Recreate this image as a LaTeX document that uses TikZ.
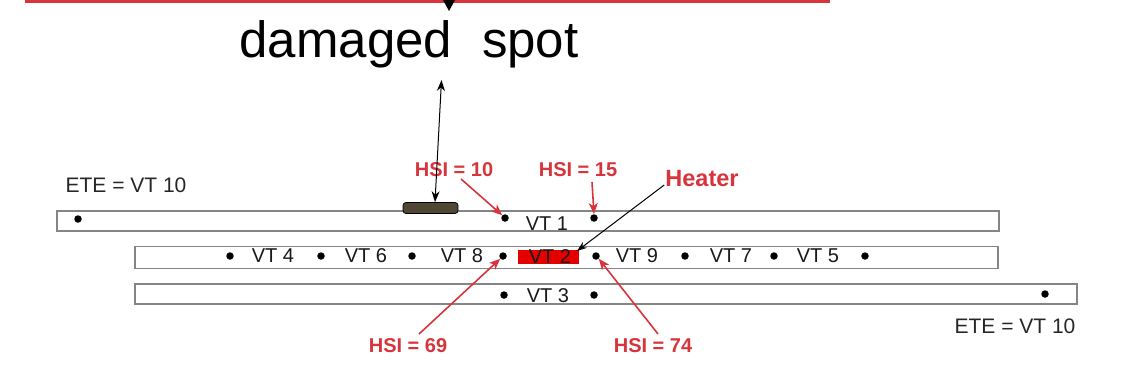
\documentclass[tikz,border=0pt]{standalone}
\usepackage{fontspec}
\setmainfont{Liberation Sans}
\usetikzlibrary{arrows.meta}
\definecolor{hsired}{HTML}{D8343C}
\definecolor{tubegray}{HTML}{858585}
\definecolor{spotbrown}{HTML}{4F4733}
\tikzset{
  tube/.style={draw=tubegray, line width=1.8pt, fill=white, anchor=north west, inner sep=0pt},
  vdot/.style={circle, fill=black, inner sep=0pt, minimum size=7.5pt},
  vtlabel/.style={font=\fontsize{20}{20}\selectfont, text=black!90, inner sep=0pt},
  redlabel/.style={font=\bfseries\fontsize{20}{20}\selectfont, text=hsired, inner sep=0pt},
  etelabel/.style={font=\fontsize{21}{21}\selectfont, text=black!85, inner sep=0pt},
  redarrow/.style={draw=hsired, line width=1.6pt, -{Stealth[length=11pt,width=9pt,inset=3pt]}},
}
\begin{document}
\begin{tikzpicture}[x=1pt,y=-1pt]
\useasboundingbox (0,0) rectangle (1128,381);
% top strip fragment
\draw[hsired, line width=3pt] (25,1.5) -- (830,1.5);
\fill[black] (443,0) -- (455,0) -- (449,11) -- cycle;
% title
\node[font=\fontsize{51}{51}\selectfont, inner sep=0pt] (title) at (409,44) {damaged\hspace{30pt}spot};
% tubes
\node[tube, minimum width=942pt, minimum height=20pt] (t1) at (56,210) {};
\node[tube, minimum width=863pt, minimum height=22pt] (t2) at (134,245.5) {};
\node[tube, minimum width=942pt, minimum height=20pt] (t3) at (134,283) {};
% damaged spot bar
\node[draw=black, line width=0.8pt, fill=spotbrown, rounded corners=3pt, minimum width=55pt, minimum height=11pt, inner sep=0pt] (spot) at (430.5,208) {};
% heater
\node[fill=red!90!black, minimum width=61pt, minimum height=14pt, inner sep=0pt] (heater) at (548.5,256.5) {};
% dots tube 1
\node[vdot] (e1) at (78,219) {};
\node[vdot] (d10) at (505,218) {};
\node[vdot] (d15) at (594,218) {};
% dots tube 2
\node[vdot] (a1) at (230,256) {};
\node[vdot] (a2) at (321,256) {};
\node[vdot] (a3) at (412,256) {};
\node[vdot] (d69) at (503,256) {};
\node[vdot] (d74) at (596,256) {};
\node[vdot] (a6) at (685,256) {};
\node[vdot] (a7) at (774,256) {};
\node[vdot] (a8) at (865,256) {};
% dots tube 3
\node[vdot] (b1) at (504,295) {};
\node[vdot] (b2) at (594,295) {};
\node[vdot] (e2) at (1045,294) {};
% VT labels
\node[vtlabel] (vt1) at (547,224) {VT 1};
\node[vtlabel] (vt4) at (273,256) {VT 4};
\node[vtlabel] (vt6) at (366,256) {VT 6};
\node[vtlabel] (vt8) at (462,256) {VT 8};
\node[vtlabel] (vt2) at (550,257) {VT 2};
\node[vtlabel] (vt9) at (637,256) {VT 9};
\node[vtlabel] (vt7) at (731,256) {VT 7};
\node[vtlabel] (vt5) at (818,256) {VT 5};
\node[vtlabel] (vt3) at (548,296) {VT 3};
% ETE labels
\node[etelabel] (ete1) at (126,185) {ETE = VT 10};
\node[etelabel] (ete2) at (1015,326) {ETE = VT 10};
% red labels
\node[redlabel] (h10) at (454,170) {HSI = 10};
\node[redlabel] (h15) at (578,170) {HSI = 15};
\node[redlabel, font=\bfseries\fontsize{23.5}{23.5}\selectfont] (heat) at (702,179) {Heater};
\node[redlabel] (h69) at (408,346) {HSI = 69};
\node[redlabel] (h74) at (653,346) {HSI = 74};
% arrows
\draw[redarrow] (461,179) -- (d10.north west);
\draw[redarrow] (592,182) -- (d15.north);
\draw[redarrow] (419,334) -- (d69.south west);
\draw[redarrow] (658,334) -- (d74.south east);
\draw[black, line width=1pt, -{Stealth[length=10pt,width=7pt]}] (heat.west) ++(-1,6) -- (577,251);
\draw[black, line width=1pt, {Stealth[length=11pt,width=8pt]}-{Stealth[length=11pt,width=8pt]}] (441.5,80) -- (spot.north -| 435,0);
\end{tikzpicture}
\end{document}
